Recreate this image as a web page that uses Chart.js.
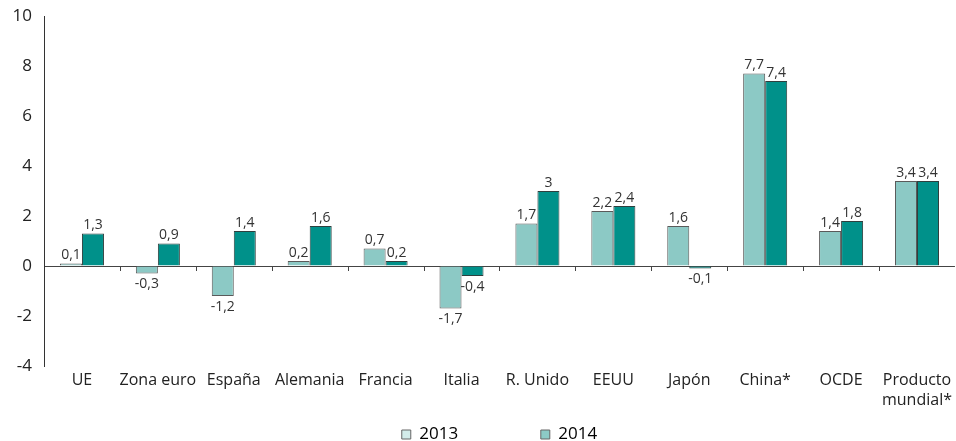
<!DOCTYPE html>
<html>
<head>
<meta charset="utf-8">
<script src="https://cdn.jsdelivr.net/npm/chart.js@4/dist/chart.umd.min.js"></script>
<style>
  html, body { margin: 0; padding: 0; background: #fff; }
  #wrap { width: 956px; height: 441px; }
</style>
</head>
<body>
<div id="wrap"><canvas id="chartPib"></canvas></div>
<script>
"use strict";

var categories = ["UE", "Zona euro", "España", "Alemania", "Francia", "Italia",
  "R. Unido", "EEUU", "Japón", "China*", "OCDE", ["Producto", "mundial*"]];
var values2013 = [0.1, -0.3, -1.2, 0.2, 0.7, -1.7, 1.7, 2.2, 1.6, 7.7, 1.4, 3.4];
var values2014 = [1.3, 0.9, 1.4, 1.6, 0.2, -0.4, 3, 2.4, -0.1, 7.4, 1.8, 3.4];
var yTicks = [-4, -2, 0, 2, 4, 6, 8, 10];

var fontFamily = "'Open Sans', 'Noto Sans', sans-serif";

function formatValue(v) {
  return v.toString().replace(".", ",");
}

// etiquetas de valor encima / debajo de cada barra
var valueLabels = {
  id: "valueLabels",
  afterDatasetsDraw: function(chart) {
    var ctx = chart.ctx;
    ctx.save();
    ctx.font = "14px " + fontFamily;
    ctx.fillStyle = "#333";
    ctx.textAlign = "center";
    chart.data.datasets.forEach(function(ds, di) {
      chart.getDatasetMeta(di).data.forEach(function(bar, i) {
        var v = ds.data[i];
        if (v >= 0) {
          ctx.textBaseline = "bottom";
          ctx.fillText(formatValue(v), bar.x, bar.y - 1);
        } else {
          ctx.textBaseline = "top";
          ctx.fillText(formatValue(v), bar.x, bar.y + 4);
        }
      });
    });
    ctx.restore();
  }
};

// marcas pequeñas sobre la línea del cero, entre categorías
var zeroTicks = {
  id: "zeroTicks",
  afterDatasetsDraw: function(chart) {
    var ctx = chart.ctx;
    var x = chart.scales.x;
    var y0 = chart.scales.y.getPixelForValue(0);
    var half = (x.getPixelForValue(1) - x.getPixelForValue(0)) / 2;
    ctx.save();
    ctx.strokeStyle = "#444";
    ctx.lineWidth = 1;
    for (var i = 0; i < categories.length - 1; i++) {
      var px = Math.round(x.getPixelForValue(i) + half) + 0.5;
      ctx.beginPath();
      ctx.moveTo(px, y0);
      ctx.lineTo(px, y0 + 5);
      ctx.stroke();
    }
    ctx.restore();
  }
};

var chartPib = new Chart("chartPib", {
  type: "bar",
  data: {
    labels: categories,
    datasets: [
      {
        label: "2013",
        data: values2013,
        backgroundColor: "#8cc9c5",
        borderColor: "#5a5a5a",
        borderWidth: 1,
        legendColor: "#d3ecea"
      },
      {
        label: "2014",
        data: values2014,
        backgroundColor: "#00918a",
        borderColor: "#2f3f3e",
        borderWidth: 1,
        legendColor: "#8ccac6"
      }
    ]
  },
  options: {
    responsive: true,
    maintainAspectRatio: false,
    animation: false,
    layout: { padding: { top: 16, right: 0, left: 0, bottom: -12 } },
    datasets: {
      bar: { categoryPercentage: 0.58, barPercentage: 1 }
    },
    plugins: {
      tooltip: { enabled: false },
      legend: {
        position: "bottom",
        fullSize: false,
        labels: {
          font: { family: fontFamily, size: 17 },
          color: "#222",
          boxWidth: 9,
          boxHeight: 9,
          padding: 12,
          generateLabels: function(chart) {
            return chart.data.datasets.map(function(ds, i) {
              return {
                text: i === 0 ? ds.label + "                " : ds.label,
                fillStyle: ds.legendColor,
                strokeStyle: "#666",
                lineWidth: 1,
                datasetIndex: i
              };
            });
          }
        }
      }
    },
    scales: {
      x: {
        grid: { display: false, drawTicks: false },
        border: { display: false },
        ticks: {
          font: { family: fontFamily, size: 16, lineHeight: 1.25 },
          color: "#222",
          padding: 4,
          maxRotation: 0,
          autoSkip: false
        }
      },
      y: {
        min: -4,
        max: 10,
        afterBuildTicks: function(scale) {
          scale.ticks = yTicks.map(function(v) { return { value: v }; });
        },
        afterFit: function(scale) {
          scale.width = 44;
          scale.paddingTop = 0;
        },
        border: { display: true, color: "#333", width: 1 },
        grid: {
          drawTicks: false,
          color: function(c) { return c.tick && c.tick.value === 0 ? "#444" : "rgba(0,0,0,0)"; }
        },
        ticks: {
          font: { family: fontFamily, size: 17 },
          color: "#222",
          padding: 12
        }
      }
    }
  },
  plugins: [valueLabels, zeroTicks]
});
</script>
</body>
</html>
